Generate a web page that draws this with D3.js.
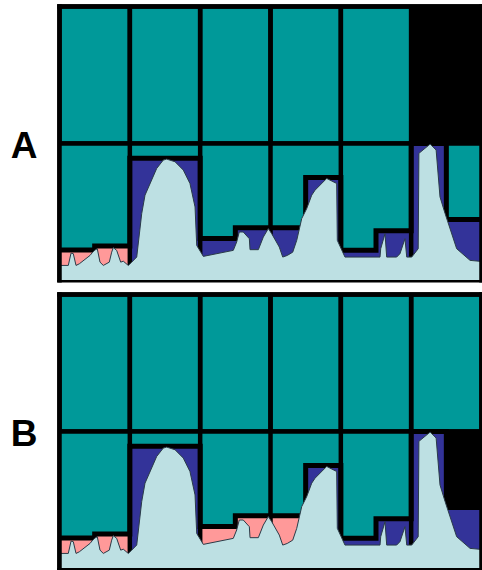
<!doctype html>
<html lang="en">
<head>
  <meta charset="utf-8">
  <title>Window levels A / B</title>
  <script src="https://d3js.org/d3.v7.min.js"></script>
  <style>
    body { margin: 0; background: #fff; }
    .label { font: bold 37px "Liberation Sans", Arial, sans-serif; fill: #000; text-anchor: middle; }
    .trace { fill: #bde0e3; }
    .trace-line { fill: none; stroke: #2b3b48; stroke-width: 1px; stroke-linejoin: round; }
    .grid { stroke: #000; fill: none; }
  </style>
</head>
<body>
<svg width="482" height="570"></svg>
<script>
  // panels and the two-row window layout
  var panels = ["A", "B"];
  var panelOffset = [0, 288];

  // 12 windows of 5 units, two per column
  var windowStart = [0, 5, 10, 15, 20, 25, 30, 35, 40, 45, 50, 55];
  var windowLevel = [22.2, 25.1, 89.2, 89.2, 30.6, 38.5, 38.5, 75.1, 22.1, 36.3, 100, 44.5];
  var windowClassA = ["low", "low", "high", "high", "high", "high", "high", "high", "high", "high", "high", "high"];
  var windowClassB = ["low", "low", "high", "high", "low", "low", "low", "high", "high", "high", "high", "high"];
  var windowOnA = [1, 1, 1, 1, 1, 1, 1, 1, 1, 1, 1, 1];
  var windowOnB = [1, 1, 1, 1, 1, 1, 1, 1, 1, 1, 1, 0];

  // upper row cells, one per column
  var columnStart = [0, 10, 20, 30, 40, 50];
  var topOnA = [1, 1, 1, 1, 1, 0];
  var topOnB = [1, 1, 1, 1, 1, 1];

  // signal trace
  var traceT = [0, 1.25, 1.64, 1.96, 2.35, 2.82, 4.34, 4.72, 5.05, 5.37, 5.76, 6.23, 7.08, 7.42, 7.65, 8.13,
    8.70, 9.07, 9.78, 10.27, 10.98, 11.69, 12.16, 13.82, 14.76, 15.24, 16.42, 17.60, 18.55, 19.27, 19.51,
    20.45, 24.71, 25.19, 25.56, 26.13, 26.99, 27.09, 28.27, 28.98, 29.69, 30.17, 31.25, 31.74, 32.39, 33.16,
    33.73, 34.44, 35.15, 35.86, 36.33, 37.99, 39.41, 39.50, 40.59, 45.57, 45.67, 46.28, 46.52, 47.94, 48.41,
    49.12, 49.37, 50.08, 51.0, 51.1, 52.70, 53.55, 54.10, 54.82, 56.47, 58.37, 60];
  var traceV = [11, 11, 20, 19.6, 11, 12.2, 18.3, 20.7, 22.3, 23.2, 13.4, 11, 13.4, 20.7, 24, 22,
    13.4, 14.1, 11, 13.4, 17.1, 48.9, 62.3, 81.8, 87.9, 88.6, 86.7, 80.6, 70.8, 53.7, 25.6,
    17.6, 22, 28.1, 35.4, 35.4, 30.5, 22.5, 22.5, 31.7, 37.9, 34.2, 24.4, 17.1, 18.3, 20.7,
    29.3, 45.2, 52.5, 62.3, 65.9, 74.5, 70.8, 29.3, 17.1, 17.1, 23.2, 34.2, 17.1, 17.1, 19.6,
    30.5, 17.1, 17.1, 23.2, 92.8, 99.6, 95.2, 61.0, 48.9, 23.2, 14.7, 13.9];

  var color = { high: "#333399", low: "#ff9999", cell: "#009999" };
  var lw = 4.5, hw = lw / 2;

  var svg = d3.select("svg");
  var x = d3.scaleLinear().domain([0, 60]).range([59.5, 481.5]);

  var trace = traceT.map(function (t, i) { return { t: t, v: traceV[i] }; });

  panels.forEach(function (name, p) {
    var oy = panelOffset[p];
    var y = d3.scaleLinear().domain([0, 200]).range([oy + 280.5, oy + 6.5]);
    var cls = p === 0 ? windowClassA : windowClassB;
    var on = p === 0 ? windowOnA : windowOnB;
    var topOn = p === 0 ? topOnA : topOnB;
    var g = svg.append("g");

    var windows = windowStart.map(function (s, i) {
      return { start: s, level: windowLevel[i], cls: cls[i], on: on[i] };
    });
    var columns = columnStart.map(function (s, i) { return { start: s, on: topOn[i] }; });

    svg.append("text").attr("class", "label")
      .attr("x", 24).attr("y", oy + 158).text(name);

    // black panel background
    g.append("rect")
      .attr("x", x(0) - hw).attr("y", y(200) - hw)
      .attr("width", x(60) - x(0) + lw).attr("height", y(0) - y(200) + hw + 1.5)
      .attr("fill", "#000");

    // upper cells
    g.selectAll(".top").data(columns.filter(function (d) { return d.on; })).enter()
      .append("rect")
      .attr("x", function (d) { return x(d.start) + hw; })
      .attr("y", y(200) + hw)
      .attr("width", function (d) { return x(d.start + 10) - x(d.start) - lw; })
      .attr("height", y(100) - y(200) - lw)
      .attr("fill", color.cell);

    // lower cells, one per column
    g.selectAll(".low").data(columns).enter()
      .append("rect")
      .attr("x", function (d) { return x(d.start); })
      .attr("y", y(100))
      .attr("width", function (d) { return x(d.start + 10) - x(d.start); })
      .attr("height", y(0) - y(100))
      .attr("fill", color.cell);

    // windows switched off stay black above their level
    g.selectAll(".off").data(windows.filter(function (d) { return !d.on; })).enter()
      .append("rect")
      .attr("x", function (d) { return x(d.start); })
      .attr("y", y(100))
      .attr("width", function (d) { return x(d.start + 5) - x(d.start); })
      .attr("height", function (d) { return y(d.level) - y(100); })
      .attr("fill", "#000");

    // fill under each window level
    g.selectAll(".under").data(windows).enter().append("rect")
      .attr("x", function (d) { return x(d.start) - 0.5; })
      .attr("y", function (d) { return y(d.level); })
      .attr("width", function (d) { return x(d.start + 5) - x(d.start) + 1; })
      .attr("height", function (d) { return y(0) - y(d.level); })
      .attr("fill", function (d) { return color[d.cls]; });

    // step line of levels
    var steps = windows.map(function (d) { return [d.start, d.level]; });
    steps.push([60, windowLevel[windowLevel.length - 1]]);
    g.append("path")
      .attr("class", "grid")
      .attr("stroke-width", 5)
      .attr("d", d3.line().x(function (d) { return x(d[0]); }).y(function (d) { return y(d[1]); })
        .curve(d3.curveStepAfter)(steps));

    // grid dividers
    g.selectAll(".vdiv").data(columnStart.slice(1)).enter().append("line")
      .attr("class", "grid").attr("stroke-width", lw)
      .attr("x1", function (d) { return x(d); }).attr("x2", function (d) { return x(d); })
      .attr("y1", y(200)).attr("y2", y(0) + 1.5);
    g.append("line")
      .attr("class", "grid").attr("stroke-width", lw)
      .attr("x1", x(0)).attr("x2", x(60)).attr("y1", y(100)).attr("y2", y(100));

    // trace
    g.append("path").attr("class", "trace")
      .attr("d", d3.area()
        .x(function (d) { return x(d.t); })
        .y0(y(0))
        .y1(function (d) { return y(d.v); })(trace));
    g.append("path").attr("class", "trace-line")
      .attr("d", d3.line()
        .x(function (d) { return x(d.t); })
        .y(function (d) { return y(d.v); })(trace));

    // frame
    g.append("line").attr("class", "grid").attr("stroke-width", lw)
      .attr("x1", x(0)).attr("x2", x(0)).attr("y1", y(200) - hw).attr("y2", y(0) + 2);
    g.append("line").attr("class", "grid").attr("stroke-width", lw)
      .attr("x1", x(60)).attr("x2", x(60)).attr("y1", y(200) - hw).attr("y2", y(0) + 2);
    g.append("line").attr("class", "grid").attr("stroke-width", lw)
      .attr("x1", x(0) - hw).attr("x2", x(60) + hw).attr("y1", y(200)).attr("y2", y(200));
    g.append("line").attr("class", "grid").attr("stroke-width", 2.5)
      .attr("x1", x(0) - hw).attr("x2", x(60) + hw).attr("y1", y(0) + 0.75).attr("y2", y(0) + 0.75);
  });
</script>
</body>
</html>
